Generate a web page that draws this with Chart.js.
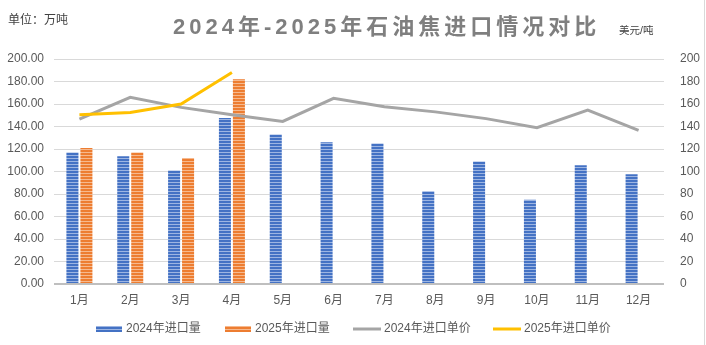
<!DOCTYPE html>
<html>
<head>
<meta charset="utf-8">
<script src="https://cdn.jsdelivr.net/npm/chart.js@4.4.1/dist/chart.umd.min.js"></script>
<style>
  html, body { margin: 0; padding: 0; background: #fff; }
  #wrap { width: 706px; height: 345px; }
</style>
</head>
<body>
<div id="wrap"><canvas id="importChart" width="706" height="345"></canvas></div>
<script>
// 月份与数据
const months = ['1月', '2月', '3月', '4月', '5月', '6月', '7月', '8月', '9月', '10月', '11月', '12月'];
const volume2024 = [117, 113.5, 101, 147.5, 133, 126, 125, 82.5, 109, 75, 105.5, 97.5];
const volume2025 = [121, 117, 112, 182, null, null, null, null, null, null, null, null];
const price2024 = [146.5, 166, 157, 150.5, 144.5, 165, 157.5, 153, 147, 139, 154.5, 136.5];
const price2025 = [150.5, 152.5, 160, 188, null, null, null, null, null, null, null, null];
const seriesNames = ['2024年进口量', '2025年进口量', '2024年进口单价', '2025年进口单价'];

// 数字用 Liberation Sans，中文回落到 Noto CJK
const FONT = '"Liberation Sans", "Noto Sans CJK SC", sans-serif';
const TEXT = '#595959';

// 横纹填充
function stripes(base, light) {
  const c = document.createElement('canvas');
  c.width = 4; c.height = 3;
  const g = c.getContext('2d');
  g.fillStyle = base; g.fillRect(0, 0, 4, 3);
  g.fillStyle = light; g.fillRect(0, 2, 4, 1);
  return g.createPattern(c, 'repeat');
}
const ctx = document.getElementById('importChart').getContext('2d');
const bluePat = stripes('#4472C4', '#9DB5E2');
const orangePat = stripes('#ED7D31', '#F6B98E');

// 标题、单位、图例
const legendX = [96, 225, 353, 493];
const decorations = {
  id: 'decorations',
  afterDraw(chart) {
    const c = chart.ctx;
    c.save();
    c.strokeStyle = '#D9D9D9';
    c.lineWidth = 1;
    c.beginPath(); c.moveTo(704.5, 0); c.lineTo(704.5, 345); c.stroke();

    c.fillStyle = '#7F7F7F';
    c.font = 'bold 22px ' + FONT;
    c.textAlign = 'left';
    c.textBaseline = 'middle';
    c.letterSpacing = '4px';
    c.fillText('2024年-2025年石油焦进口情况对比', 173, 28);
    c.letterSpacing = '0px';

    c.fillStyle = '#404040';
    c.font = '12px ' + FONT;
    c.fillText('单位：万吨', 8, 21);
    c.font = '10.5px ' + FONT;
    c.fillText('美元/吨', 619, 31);

    // 图例
    const y = 329;
    c.font = '12px ' + FONT;
    seriesNames.forEach((name, i) => {
      const x = legendX[i];
      if (i < 2) {
        c.fillStyle = i === 0 ? bluePat : orangePat;
        c.fillRect(x, y - 3, 26, 6);
      } else {
        c.fillStyle = i === 2 ? '#A5A5A5' : '#FFC000';
        c.fillRect(x, y - 1.5, 28, 3);
      }
      c.fillStyle = TEXT;
      c.fillText(name, x + (i < 2 ? 30 : 31), y);
    });
    c.restore();
  }
};

new Chart(ctx, {
  data: {
    labels: months,
    datasets: [
      { type: 'bar', label: seriesNames[0], data: volume2024, backgroundColor: bluePat,
        borderWidth: 0, yAxisID: 'y', order: 2,
        categoryPercentage: 0.55, barPercentage: 0.86 },
      { type: 'bar', label: seriesNames[1], data: volume2025, backgroundColor: orangePat,
        borderWidth: 0, yAxisID: 'y', order: 2,
        categoryPercentage: 0.55, barPercentage: 0.86 },
      { type: 'line', label: seriesNames[2], data: price2024, borderColor: '#A5A5A5',
        borderWidth: 3, pointRadius: 0, tension: 0, yAxisID: 'y1', order: 1 },
      { type: 'line', label: seriesNames[3], data: price2025, borderColor: '#FFC000',
        borderWidth: 3, pointRadius: 0, tension: 0, yAxisID: 'y1', order: 0 }
    ]
  },
  options: {
    responsive: false,
    animation: false,
    layout: { padding: { top: 59, bottom: 31, left: 0, right: 0 } },
    plugins: {
      legend: { display: false },
      title: { display: false },
      tooltip: { enabled: false }
    },
    scales: {
      x: {
        grid: { display: false, drawTicks: false },
        border: { display: false },
        ticks: { color: TEXT, font: { family: FONT, size: 12 }, padding: 9, maxRotation: 0 },
        afterFit(s) { s.height = 30; }
      },
      y: {
        position: 'left',
        min: 0, max: 200,
        ticks: { stepSize: 20, color: TEXT, font: { family: FONT, size: 12 }, padding: 10,
          callback: v => v.toFixed(2) },
        grid: {
          drawTicks: false,
          color: c => c.tick.value === 0 ? '#BFBFBF' : '#D9D9D9',
          lineWidth: c => c.tick.value === 0 ? 2 : 1
        },
        border: { display: false },
        afterFit(s) { s.width = 54; }
      },
      y1: {
        position: 'right',
        min: 0, max: 200,
        ticks: { stepSize: 20, color: TEXT, font: { family: FONT, size: 12 }, padding: 16 },
        grid: { display: false, drawTicks: false },
        border: { display: false },
        afterFit(s) { s.width = 42; }
      }
    }
  },
  plugins: [decorations]
});
</script>
</body>
</html>
